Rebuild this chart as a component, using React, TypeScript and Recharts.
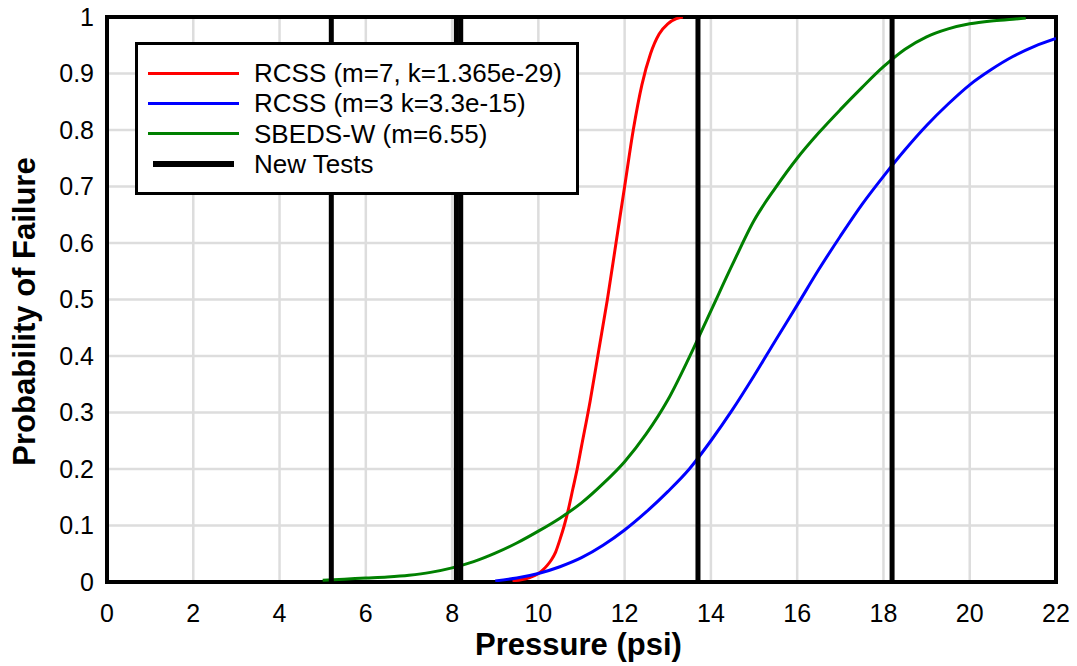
import React from 'react';
import {
  LineChart,
  Line,
  XAxis,
  YAxis,
  CartesianGrid,
  ReferenceLine,
  ReferenceArea,
} from 'recharts';

// axis ticks
const pressureTicks = [0, 2, 4, 6, 8, 10, 12, 14, 16, 18, 20, 22];
const probabilityTicks = [0, 0.1, 0.2, 0.3, 0.4, 0.5, 0.6, 0.7, 0.8, 0.9, 1];

// RCSS (m=7, k=1.365e-29)
const rcss7Pressure = [9.4, 9.6, 9.8, 10.0, 10.1, 10.2, 10.3, 10.4, 10.5, 10.6, 10.7, 10.8, 10.9, 11.0, 11.2, 11.4, 11.6, 11.8, 12.0, 12.2, 12.4, 12.6, 12.8, 13.0, 13.2, 13.35];
const rcss7Prob = [0.002, 0.004, 0.008, 0.015, 0.021, 0.029, 0.039, 0.053, 0.075, 0.1, 0.13, 0.165, 0.2, 0.24, 0.32, 0.41, 0.5, 0.6, 0.7, 0.8, 0.88, 0.935, 0.97, 0.988, 0.997, 1.0];

// RCSS (m=3 k=3.3e-15)
const rcss3Pressure = [9.0, 9.5, 10, 10.5, 11, 11.5, 12, 12.5, 13, 13.5, 14, 14.5, 15, 15.5, 16, 16.5, 17, 17.5, 18, 18.5, 19, 19.5, 20, 20.5, 21, 21.5, 22];
const rcss3Prob = [0.002, 0.007, 0.015, 0.027, 0.043, 0.065, 0.092, 0.124, 0.16, 0.2, 0.25, 0.305, 0.365, 0.428, 0.49, 0.553, 0.612, 0.668, 0.718, 0.765, 0.808, 0.846, 0.88, 0.907, 0.93, 0.948, 0.962];

// SBEDS-W (m=6.55)
const sbedsPressure = [5.0, 5.5, 6, 6.5, 7, 7.5, 8, 8.5, 9, 9.5, 10, 10.5, 11, 11.5, 12, 12.5, 13, 13.5, 14, 14.5, 15, 15.5, 16, 16.5, 17, 17.5, 18, 18.5, 19, 19.5, 20, 20.5, 21, 21.3];
const sbedsProb = [0.003, 0.005, 0.007, 0.009, 0.012, 0.017, 0.025, 0.036, 0.051, 0.069, 0.09, 0.113, 0.14, 0.174, 0.213, 0.262, 0.322, 0.398, 0.48, 0.562, 0.64, 0.698, 0.75, 0.795, 0.836, 0.875, 0.912, 0.943, 0.965, 0.979, 0.988, 0.993, 0.996, 0.998];

// New Tests (psi)
const testPressures = [5.2, 8.1, 8.2, 13.7, 18.2];

const zip = (xs: number[], ps: number[]) => xs.map((x, i) => ({ x, p: ps[i] }));

const series = [
  { name: 'RCSS (m=7, k=1.365e-29)', color: '#ff0000', data: zip(rcss7Pressure, rcss7Prob) },
  { name: 'RCSS (m=3 k=3.3e-15)', color: '#0000ff', data: zip(rcss3Pressure, rcss3Prob) },
  { name: 'SBEDS-W (m=6.55)', color: '#008000', data: zip(sbedsPressure, sbedsProb) },
];

const FONT = '"Liberation Sans", Arial, sans-serif';

const legendItems = [
  ...series.map((s) => ({ label: s.name, color: s.color, thick: 3, inset: 10 })),
  { label: 'New Tests', color: '#000000', thick: 6, inset: 15 },
];

function ChartLegend() {
  return (
    <div
      style={{
        position: 'absolute',
        left: 135,
        top: 42,
        width: 444,
        height: 153,
        boxSizing: 'border-box',
        border: '3px solid #000',
        background: '#fff',
        paddingTop: 13,
        fontFamily: FONT,
        fontSize: 26,
        color: '#000',
      }}
    >
      {legendItems.map((item) => (
        <div key={item.label} style={{ position: 'relative', height: 30.3, lineHeight: '30.3px' }}>
          <span
            style={{
              position: 'absolute',
              left: item.inset,
              width: 101 - 2 * item.inset + 10,
              top: 15 - item.thick / 2,
              height: item.thick,
              background: item.color,
            }}
          />
          <span style={{ position: 'absolute', left: 116, top: 0, whiteSpace: 'nowrap' }}>{item.label}</span>
        </div>
      ))}
    </div>
  );
}

const YLabel = (props: any) => {
  const { viewBox } = props;
  const cx = viewBox.x + 35;
  const cy = viewBox.y + viewBox.height / 2 + 12;
  return (
    <text
      x={cx}
      y={cy}
      transform={`rotate(-90, ${cx}, ${cy})`}
      textAnchor="middle"
      fontFamily={FONT}
      fontSize={31}
      fontWeight="bold"
      fill="#000"
    >
      Probability of Failure
    </text>
  );
};

const XLabel = (props: any) => {
  const { viewBox } = props;
  return (
    <text
      x={viewBox.x + viewBox.width / 2 - 3}
      y={viewBox.y + 73}
      textAnchor="middle"
      fontFamily={FONT}
      fontSize={31}
      fontWeight="bold"
      fill="#000"
    >
      Pressure (psi)
    </text>
  );
};

export default function App() {
  return (
    <div style={{ position: 'absolute', left: 0, top: 0, width: 1077, height: 666, background: '#fff' }}>
      <LineChart width={1077} height={666} margin={{ top: 17, right: 21, bottom: 0, left: 0 }}>
        <CartesianGrid stroke="#dddddd" strokeWidth={2.5} />
        <XAxis
          dataKey="x"
          type="number"
          domain={[0, 22]}
          ticks={pressureTicks}
          allowDataOverflow
          height={84}
          axisLine={false}
          tickLine={false}
          tickSize={0}
          tickMargin={22}
          tick={{ fill: '#000', fontSize: 25, fontFamily: FONT }}
          label={<XLabel />}
        />
        <YAxis
          type="number"
          domain={[0, 1]}
          ticks={probabilityTicks}
          allowDataOverflow
          width={107}
          axisLine={false}
          tickLine={false}
          tickSize={0}
          tickMargin={13}
          tick={{ fill: '#000', fontSize: 25, fontFamily: FONT }}
          label={<YLabel />}
        />
        {series.map((s) => (
          <Line
            key={s.name}
            data={s.data}
            dataKey="p"
            name={s.name}
            type="monotone"
            stroke={s.color}
            strokeWidth={3}
            dot={false}
            activeDot={false}
            isAnimationActive={false}
          />
        ))}
        {testPressures.map((t) => (
          <ReferenceLine key={t} x={t} stroke="#000" strokeWidth={5} />
        ))}
        <ReferenceArea x1={0} x2={22} y1={0} y2={1} fill="none" stroke="#000" strokeWidth={4} fillOpacity={0} />
      </LineChart>
      <ChartLegend />
    </div>
  );
}
